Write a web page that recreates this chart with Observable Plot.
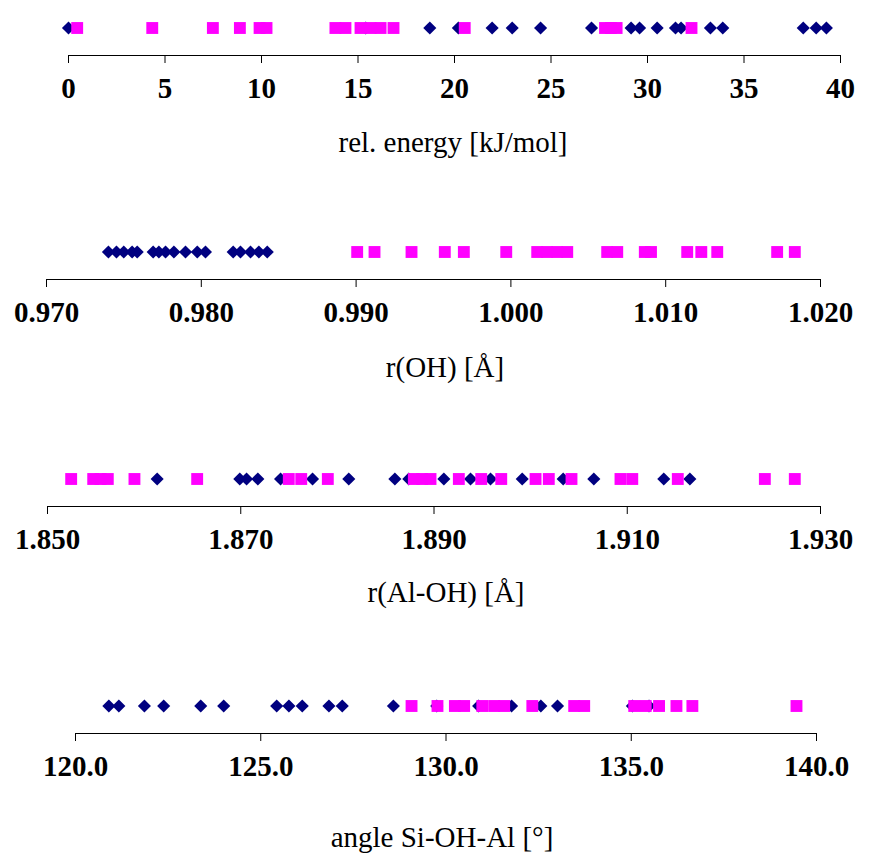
<!DOCTYPE html>
<html>
<head>
<meta charset="utf-8">
<script src="https://cdn.jsdelivr.net/npm/d3@7"></script>
<script src="https://cdn.jsdelivr.net/npm/@observablehq/plot@0.6"></script>
<style>
  html, body { margin: 0; padding: 0; background: #fff; }
  #wrap { position: relative; width: 879px; height: 855px; overflow: hidden; }
  .row { position: absolute; left: 0; }
  .title { position: absolute; font-family: "Liberation Serif", "Times New Roman", serif; font-size: 29px; line-height: 29px; white-space: nowrap; transform: translateX(-50%); color: #000; }
</style>
</head>
<body>
<div id="wrap"></div>
<script>
// ---- Data ----
const energyDiamonds = [0, 15.4, 18.72, 20.2, 21.95, 22.99, 24.46, 27.1, 29.15, 29.59, 30.5, 31.45, 31.74, 33.26, 33.9, 38.07, 38.74, 39.27];
const energySquares = [0.45, 4.34, 7.48, 8.88, 9.9, 10.26, 13.83, 14.35, 15.13, 15.65, 16.17, 16.84, 20.53, 27.8, 28.1, 28.4, 32.28];
const energyTicks = [0, 5, 10, 15, 20, 25, 30, 35, 40];

const rohDiamonds = [0.9740, 0.97452, 0.97499, 0.97553, 0.97586, 0.97689, 0.97726, 0.97769, 0.97823, 0.97898, 0.97974, 0.98027, 0.98206, 0.98253, 0.98318, 0.98372, 0.98426];
const rohSquares = [0.99007, 0.99119, 0.99358, 0.99573, 0.99696, 0.99970, 1.00170, 1.00234, 1.00299, 1.00364, 1.00622, 1.00687, 1.00865, 1.00905, 1.01139, 1.01230, 1.01333, 1.01720, 1.01834];
const rohTicks = [0.970, 0.980, 0.990, 1.000, 1.010, 1.020];

const ralohDiamonds = [1.86135, 1.86990, 1.87060, 1.87177, 1.87412, 1.87743, 1.88118, 1.88595, 1.88739, 1.89102, 1.89378, 1.89585, 1.89913, 1.90337, 1.90654, 1.91378, 1.91648];
const ralohSquares = [1.85245, 1.85473, 1.85549, 1.85624, 1.8590, 1.86549, 1.87497, 1.87626, 1.87901, 1.88791, 1.88878, 1.88964, 1.89257, 1.89489, 1.89696, 1.90051, 1.90188, 1.90423, 1.90930, 1.91052, 1.91523, 1.92424, 1.92734];
const ralohTicks = [1.850, 1.870, 1.890, 1.910, 1.930];

const angleDiamonds = [120.90, 121.17, 121.86, 122.38, 123.38, 124.00, 125.43, 125.76, 126.12, 126.84, 127.20, 128.58, 129.75, 130.88, 131.77, 132.56, 133.01, 135.03, 135.48];
const angleSquares = [129.07, 129.77, 130.24, 130.49, 130.98, 131.30, 131.57, 132.33, 133.46, 133.73, 135.08, 135.39, 135.75, 136.22, 136.65, 139.46];
const angleTicks = [120, 125, 130, 135, 140];

const titles = ["rel. energy [kJ/mol]", "r(OH) [Å]", "r(Al-OH) [Å]", "angle Si-OH-Al [°]"];

// ---- Layout ----
const rows = [
  {d: energyDiamonds, s: energySquares, ticks: energyTicks, fmt: d3.format("d"), axisY: 55, left: 68, right: 39, title: titles[0], tx: 453, ty: 143},
  {d: rohDiamonds, s: rohSquares, ticks: rohTicks, fmt: d3.format(".3f"), axisY: 279, left: 46, right: 59, title: titles[1], tx: 445, ty: 368},
  {d: ralohDiamonds, s: ralohSquares, ticks: ralohTicks, fmt: d3.format(".3f"), axisY: 506, left: 47, right: 59, title: titles[2], tx: 446, ty: 593},
  {d: angleDiamonds, s: angleSquares, ticks: angleTicks, fmt: d3.format(".1f"), axisY: 733, left: 75, right: 63, title: titles[3], tx: 442, ty: 838}
];

const NAVY = "#000080";
const MAGENTA = "#ff00ff";
const frameH = 55;
const wrap = document.getElementById("wrap");

rows.forEach(r => {
  const dom = [r.ticks[0], r.ticks[r.ticks.length - 1]];
  const chart = Plot.plot({
    width: 879,
    height: frameH + 52,
    marginTop: 0,
    marginBottom: 52,
    marginLeft: r.left,
    marginRight: r.right,
    style: {fontFamily: "'Liberation Serif', 'Times New Roman', serif", fontSize: "29px", fontWeight: "bold", color: "#000", background: "transparent", overflow: "visible"},
    x: {domain: dom, ticks: r.ticks, tickFormat: r.fmt, tickSize: 8, tickPadding: 14, line: true, label: null},
    marks: [
      Plot.dot(r.d, {x: d => d, symbol: "diamond2", r: 5.9, fill: NAVY, stroke: null}),
      Plot.dot(r.s, {x: d => d, symbol: "square", r: 6.7, fill: MAGENTA, stroke: null})
    ]
  });
  chart.classList.add("row");
  chart.style.top = (r.axisY - frameH) + "px";
  wrap.appendChild(chart);

  const t = document.createElement("div");
  t.className = "title";
  t.textContent = r.title;
  t.style.left = r.tx + "px";
  t.style.top = (r.ty - 15) + "px";
  wrap.appendChild(t);
});
</script>
</body>
</html>
